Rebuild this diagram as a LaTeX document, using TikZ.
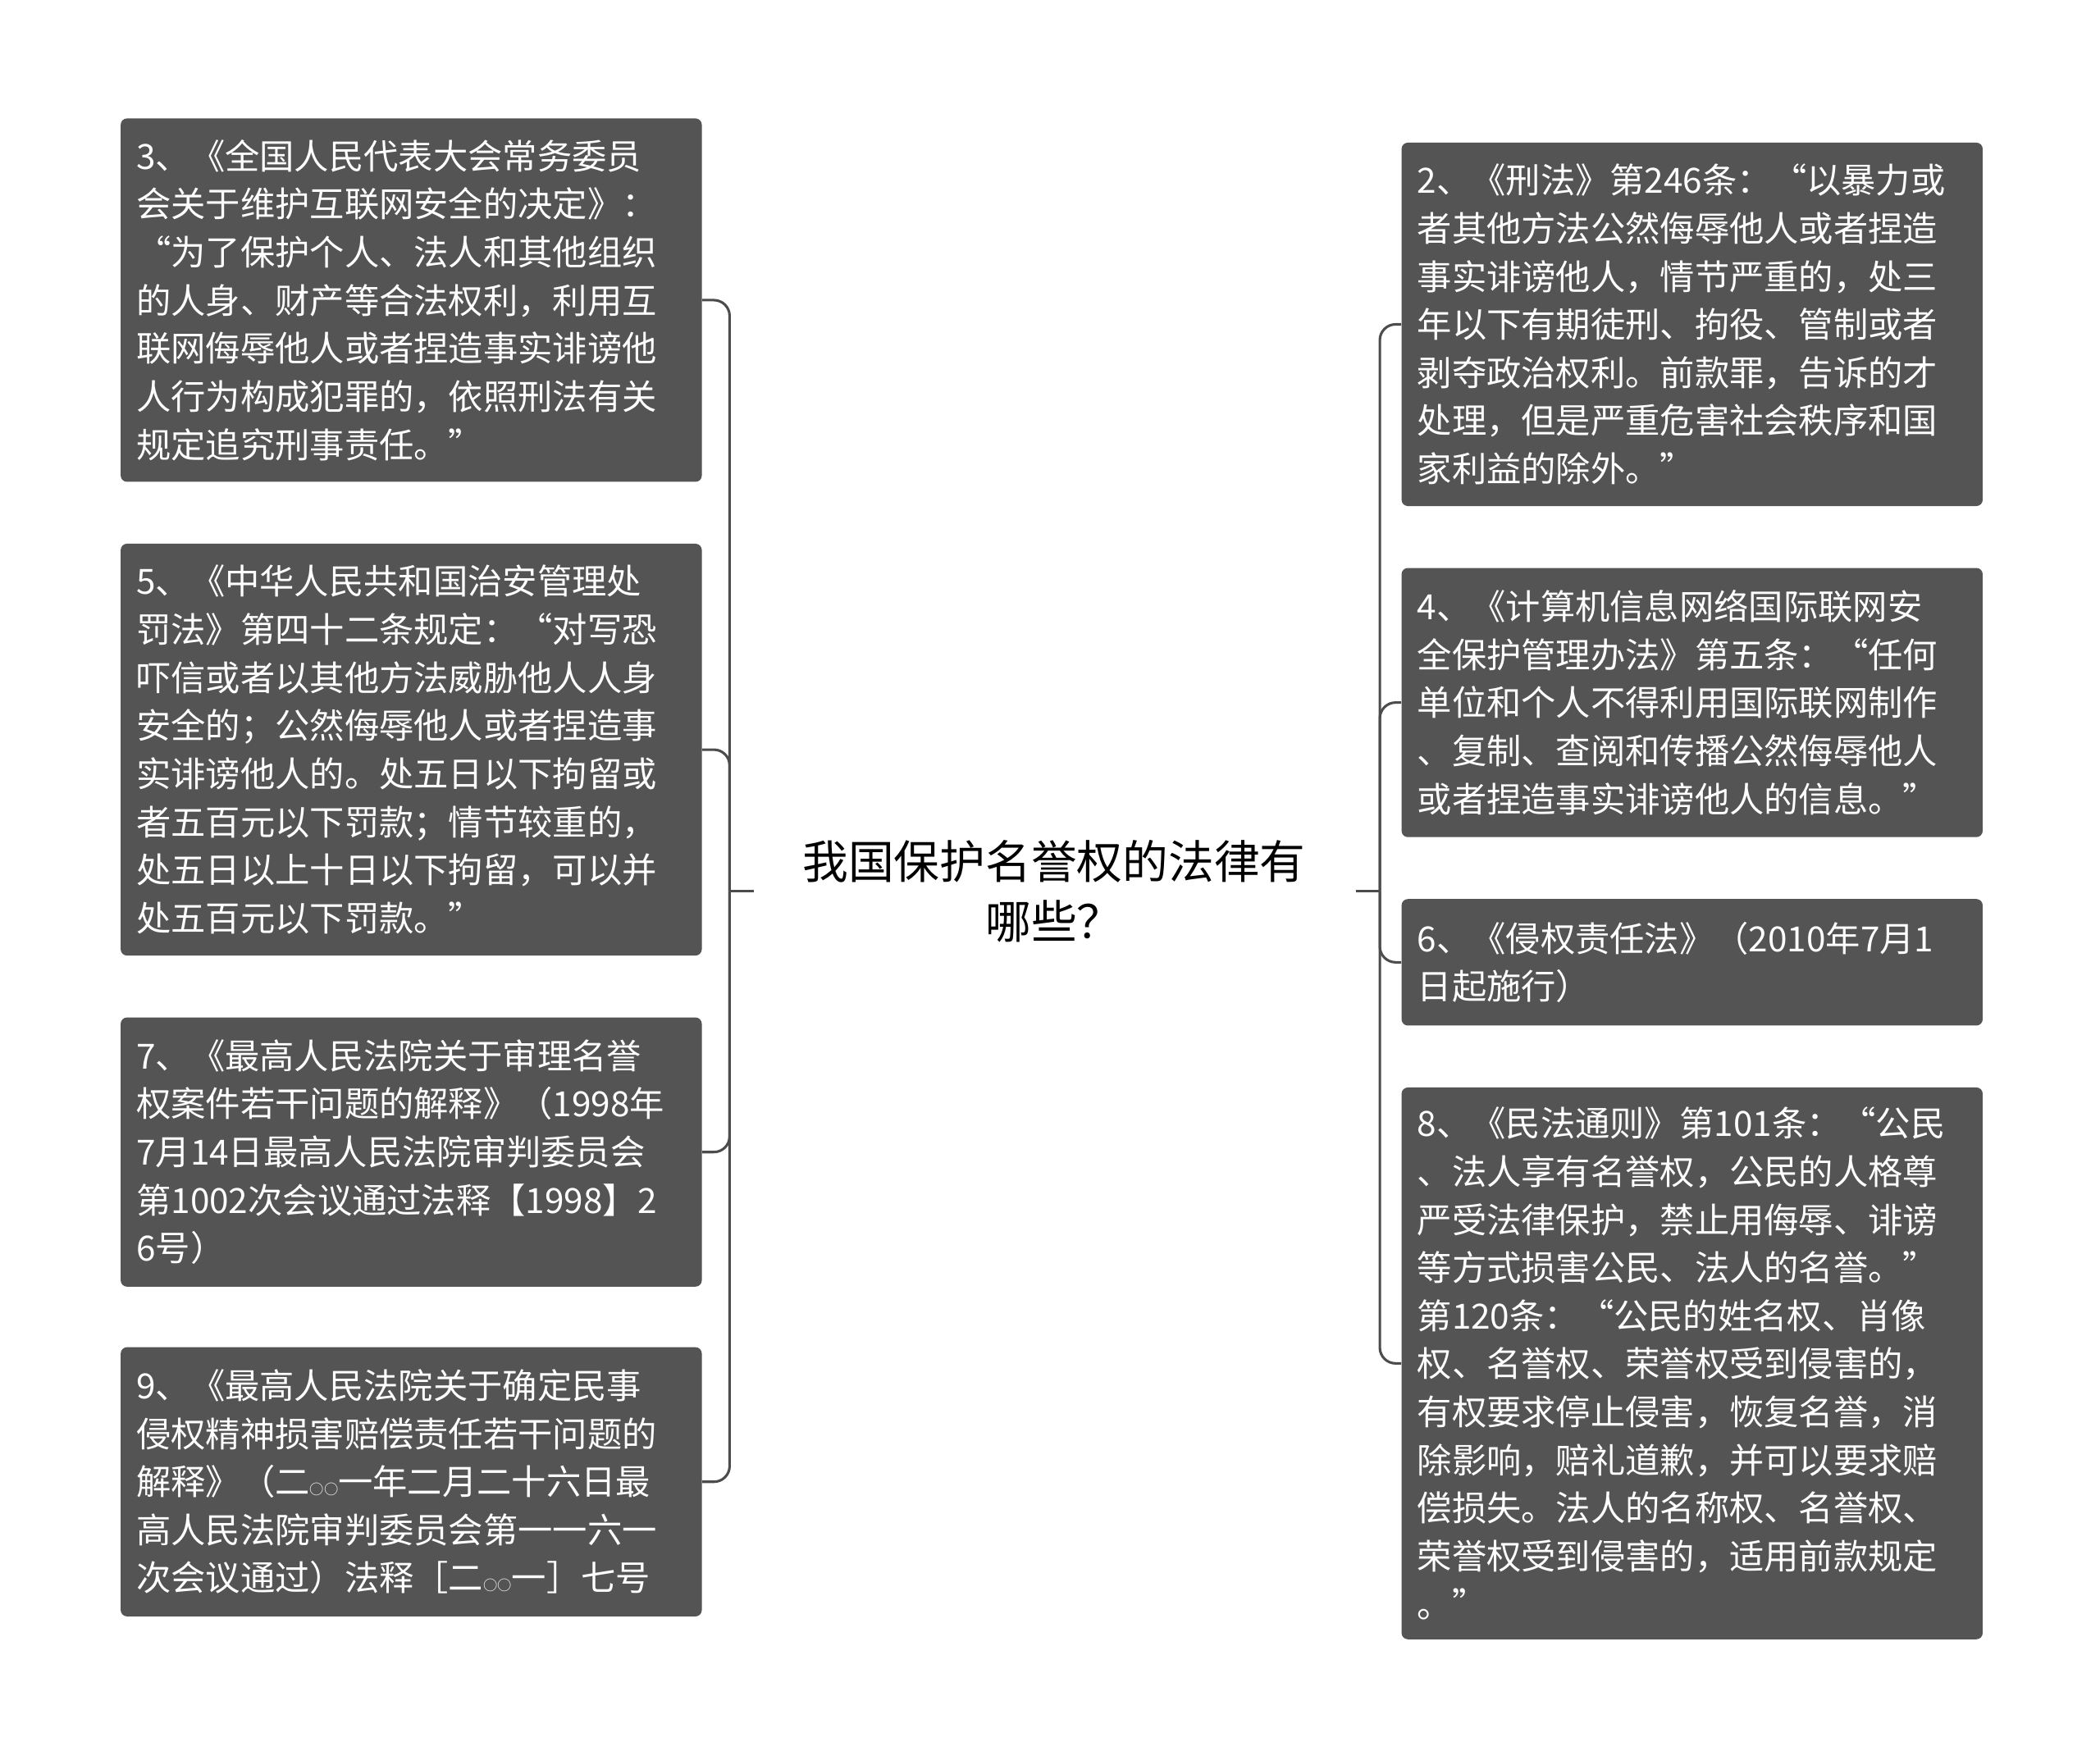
\documentclass[tikz,border=0pt]{standalone}
\usepackage{fontspec}
\setmainfont{Noto Sans CJK SC}
\usetikzlibrary{positioning}
\begin{document}
\begin{tikzpicture}[
    x=0.03cm, y=-0.03cm,
    leaf/.style={rectangle, fill=black!67, text=white, text width=12.25cm, align=left, rounded corners=4pt, inner xsep=0.35cm, inner ysep=0.2cm, font=\fontsize{22}{30.5}\selectfont},
    link/.style={draw=black!70, line width=1.6pt, rounded corners=10pt},
]
\useasboundingbox (0,0) rectangle (1560,1301);

% Nodes
\node [font=\fontsize{29}{38}\selectfont, align=center] (root) at (783,662) {我国保护名誉权的法律有\\哪些？};

\node [leaf, minimum height=270*0.03cm] (l3) at (305.5,223) {3、《全国人民代表大会常务委员\\会关于维护互联网安全的决定》：\\“为了保护个人、法人和其他组织\\的人身、财产等合法权利，利用互\\联网侮辱他人或者捏造事实诽谤他\\人行为构成犯罪的，依照刑法有关\\规定追究刑事责任。”};
\node [leaf, minimum height=306*0.03cm] (l5) at (305.5,557) {5、《中华人民共和国治安管理处\\罚法》第四十二条规定：“对写恐\\吓信或者以其他方法威胁他人人身\\安全的；公然侮辱他人或者捏造事\\实诽谤他人的。处五日以下拘留或\\者五百元以下罚款；情节较重的，\\处五日以上十日以下拘留，可以并\\处五百元以下罚款。”};
\node [leaf, minimum height=200*0.03cm] (l7) at (305.5,856) {7、《最高人民法院关于审理名誉\\权案件若干问题的解释》（1998年\\7月14日最高人民法院审判委员会\\第1002次会议通过法释【1998】2\\6号）};
\node [leaf, minimum height=200*0.03cm] (l9) at (305.5,1101) {9、《最高人民法院关于确定民事\\侵权精神损害赔偿责任若干问题的\\解释》（二{\small○○}一年二月二十六日最\\高人民法院审判委员会第一一六一\\次会议通过）法释［二{\small○○}一］七号};

\node [leaf, minimum height=270*0.03cm] (r2) at (1257,241) {2、《刑法》第246条：“以暴力或\\者其他方法公然侮辱他人或者捏造\\事实诽谤他人，情节严重的，处三\\年以下有期徒刑、拘役、管制或者\\剥夺政治权利。前款罪，告诉的才\\处理，但是严重危害社会秩序和国\\家利益的除外。”};
\node [leaf, minimum height=200*0.03cm] (r4) at (1257,522) {4、《计算机信息网络国际联网安\\全保护管理办法》第五条：“任何\\单位和个人不得利用国际联网制作\\、复制、查阅和传播公然侮辱他人\\或者捏造事实诽谤他人的信息。”};
\node [leaf, minimum height=94*0.03cm] (r6) at (1257,715) {6、《侵权责任法》（2010年7月1\\日起施行）};
\node [leaf, minimum height=410*0.03cm] (r8) at (1257,1013) {8、《民法通则》第101条：“公民\\、法人享有名誉权，公民的人格尊\\严受法律保护，禁止用侮辱、诽谤\\等方式损害公民、法人的名誉。”\\第120条：“公民的姓名权、肖像\\权、名誉权、荣誉权受到侵害的，\\有权要求停止侵害，恢复名誉，消\\除影响，赔礼道歉，并可以要求赔\\偿损失。法人的名称权、名誉权、\\荣誉权受到侵害的，适用前款规定\\。”};

\coordinate (ltrunk) at (542,662);
\coordinate (rtrunk) at (1025,662);

% Lines
\draw [link] (560,662) -- (ltrunk);
\draw [link] (1007,662) -- (rtrunk);
\foreach \n in {l3,l5,l7,l9}
    \draw [link] (ltrunk) |- (\n.east);
\foreach \n in {r2,r4,r6,r8}
    \draw [link] (rtrunk) |- (\n.west);

\end{tikzpicture}
\end{document}
